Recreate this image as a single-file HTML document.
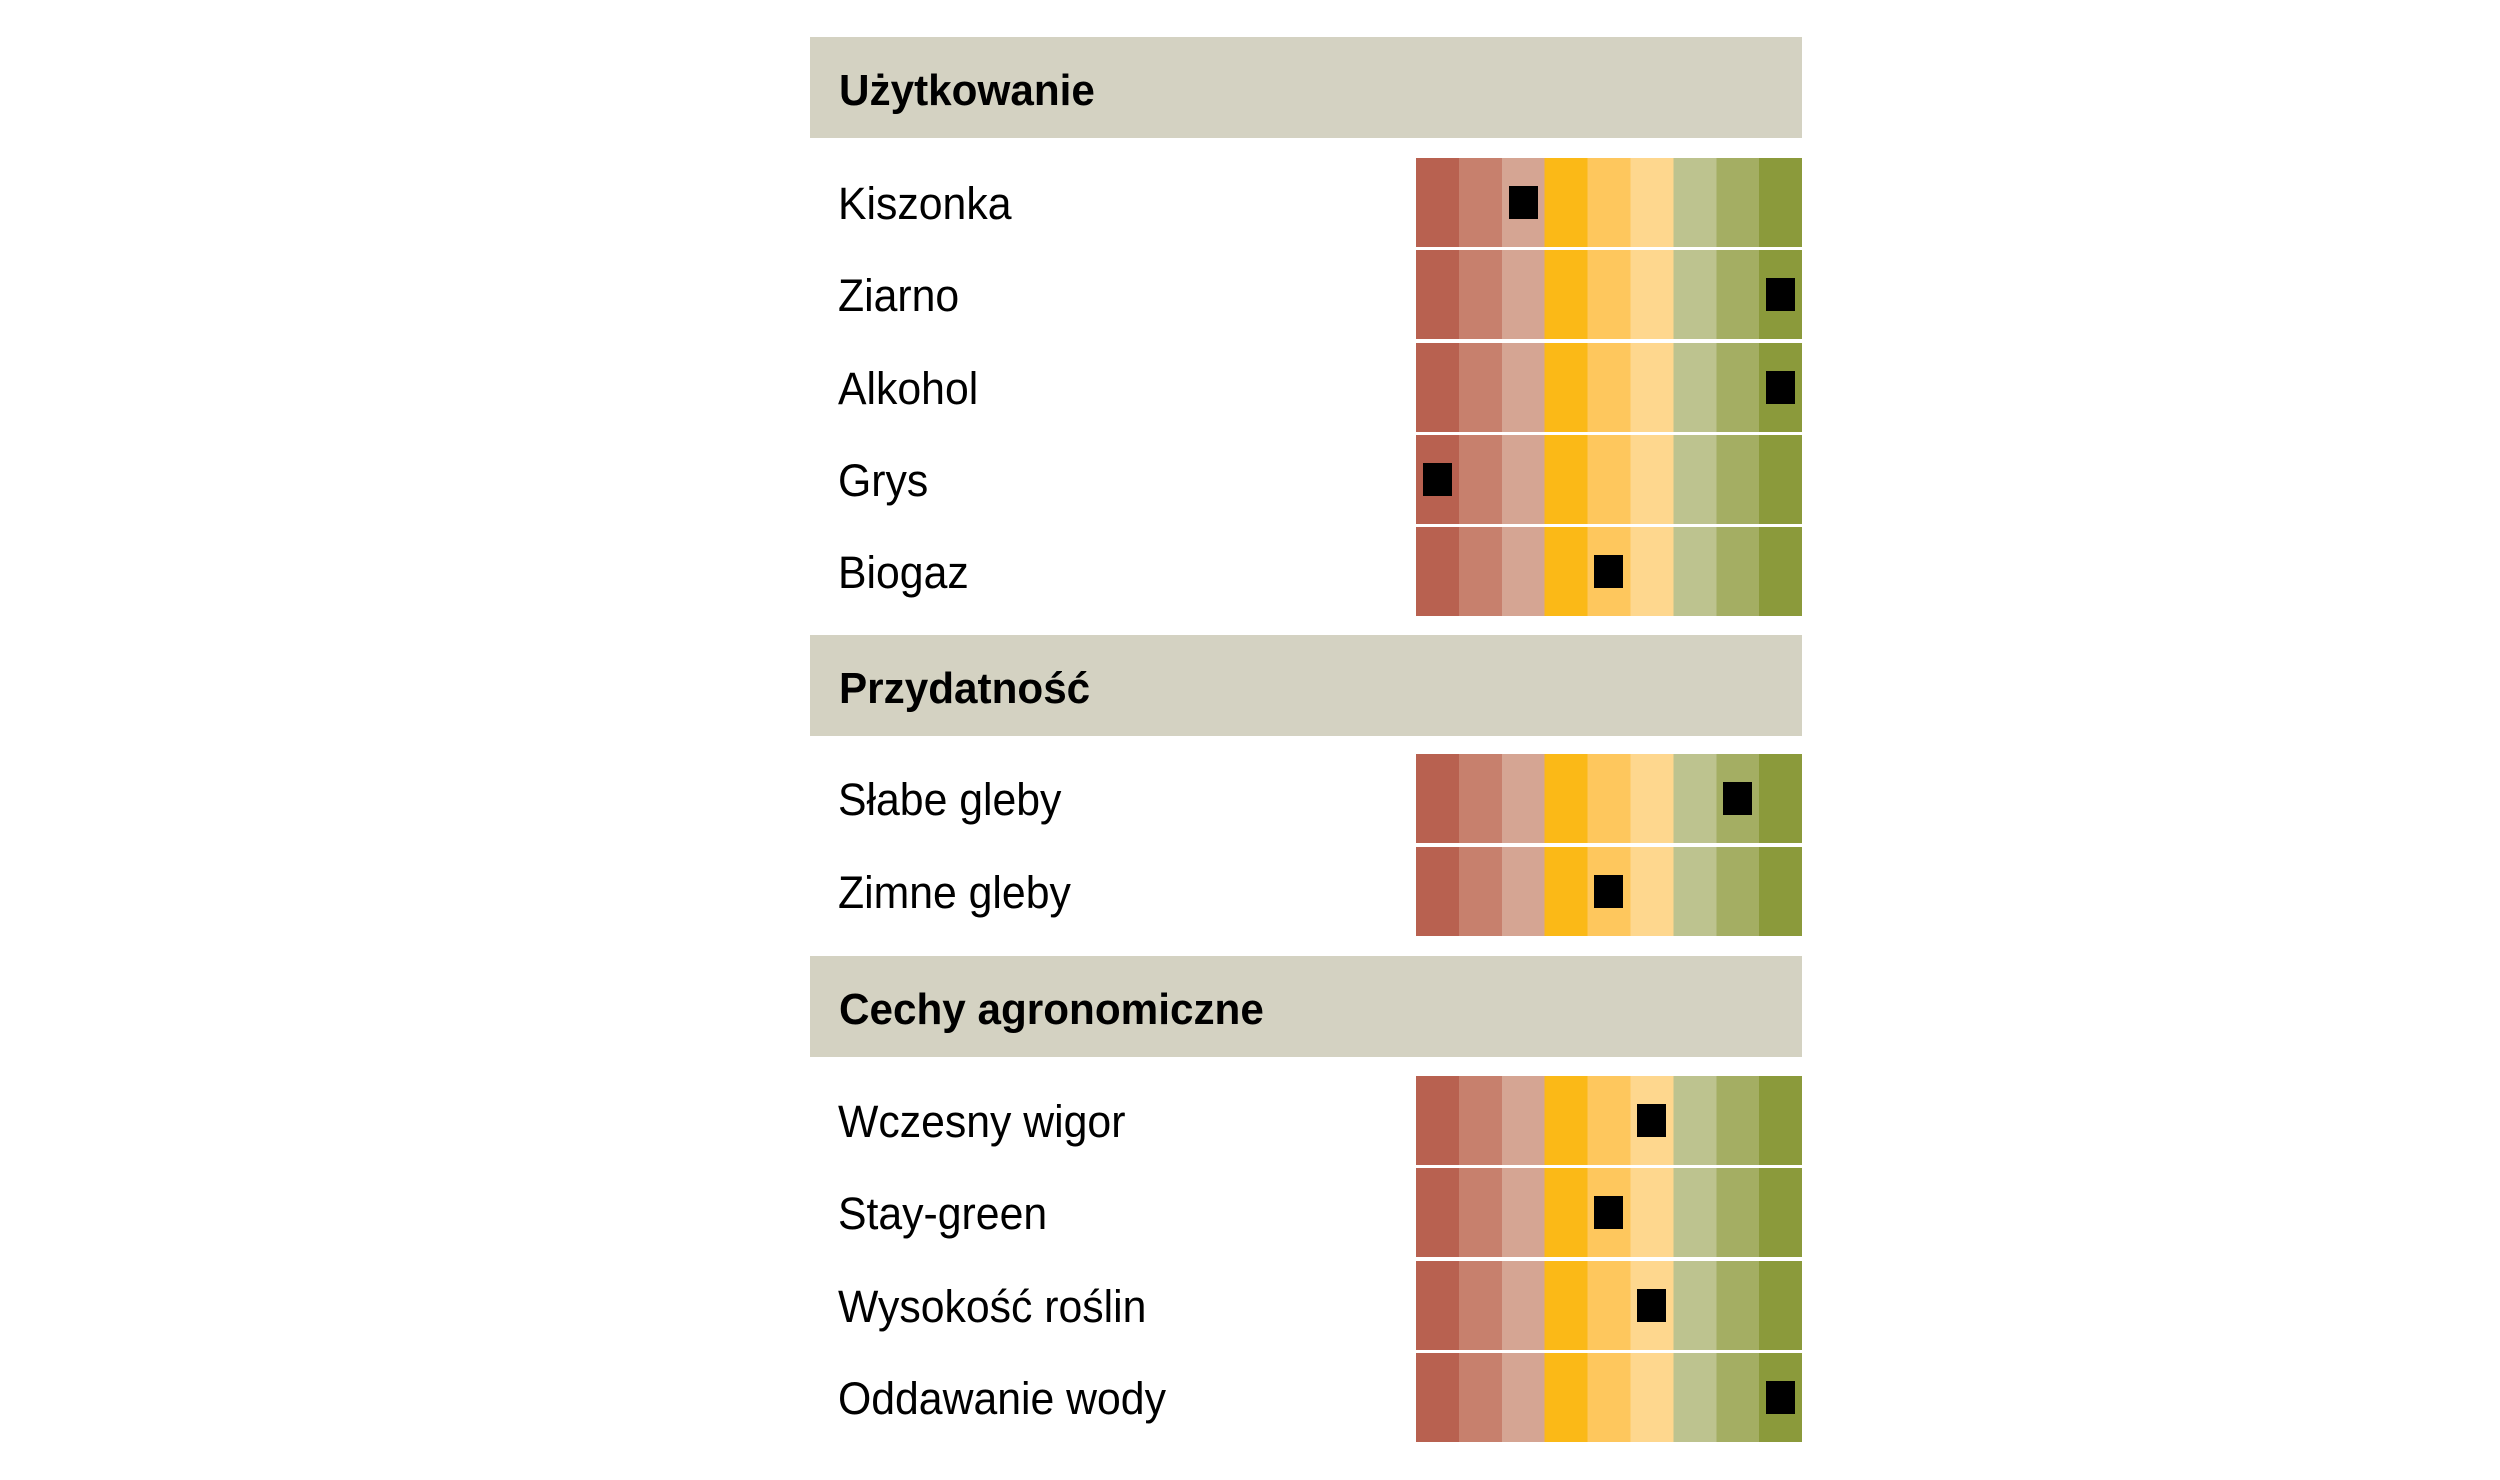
<!DOCTYPE html>
<html><head><meta charset="utf-8"><style>
html,body{margin:0;padding:0;background:#fff;width:2500px;height:1480px;overflow:hidden;position:relative;font-family:"Liberation Sans",sans-serif}
.h{position:absolute;left:810px;width:992px;height:101px;background:#d4d2c2}
.h span{position:absolute;left:29px;top:32px;font-weight:bold;font-size:44px;line-height:44px;transform:scaleX(0.96);transform-origin:left;color:#000}
.l{position:absolute;left:838px;font-size:45px;line-height:45px;transform:scaleX(0.95);transform-origin:left;color:#000}
.b{position:absolute;left:1416px;width:386px;height:89px;background:linear-gradient(to right,#b86150 0,#b86150 42.9px,#c7806d 42.9px,#c7806d 85.8px,#d5a593 85.8px,#d5a593 128.7px,#fbb917 128.7px,#fbb917 171.6px,#fec75d 171.6px,#fec75d 214.5px,#fed78e 214.5px,#fed78e 257.4px,#bdc38f 257.4px,#bdc38f 300.3px,#a4ae63 300.3px,#a4ae63 343.2px,#8b9a3b 343.2px,#8b9a3b 386px)}
.m{position:absolute;top:28px;width:29px;height:33px;background:#000}
</style></head><body>
<div class="h" style="top:37px"><span>Użytkowanie</span></div>
<div class="l" style="top:181px">Kiszonka</div><div class="b" style="top:158px"><div class="m" style="left:92.5px"></div></div>
<div class="l" style="top:273px">Ziarno</div><div class="b" style="top:250px"><div class="m" style="left:350px"></div></div>
<div class="l" style="top:366px">Alkohol</div><div class="b" style="top:343px"><div class="m" style="left:350px"></div></div>
<div class="l" style="top:458px">Grys</div><div class="b" style="top:435px"><div class="m" style="left:6.5px"></div></div>
<div class="l" style="top:550px">Biogaz</div><div class="b" style="top:527px"><div class="m" style="left:178px"></div></div>

<div class="h" style="top:635px"><span>Przydatność</span></div>
<div class="l" style="top:777px">Słabe gleby</div><div class="b" style="top:754px"><div class="m" style="left:307px"></div></div>
<div class="l" style="top:870px">Zimne gleby</div><div class="b" style="top:847px"><div class="m" style="left:178px"></div></div>

<div class="h" style="top:956px"><span>Cechy agronomiczne</span></div>
<div class="l" style="top:1099px">Wczesny wigor</div><div class="b" style="top:1076px"><div class="m" style="left:221px"></div></div>
<div class="l" style="top:1191px">Stay-green</div><div class="b" style="top:1168px"><div class="m" style="left:178px"></div></div>
<div class="l" style="top:1284px">Wysokość roślin</div><div class="b" style="top:1261px"><div class="m" style="left:221px"></div></div>
<div class="l" style="top:1376px">Oddawanie wody</div><div class="b" style="top:1353px"><div class="m" style="left:350px"></div></div>
</body></html>
